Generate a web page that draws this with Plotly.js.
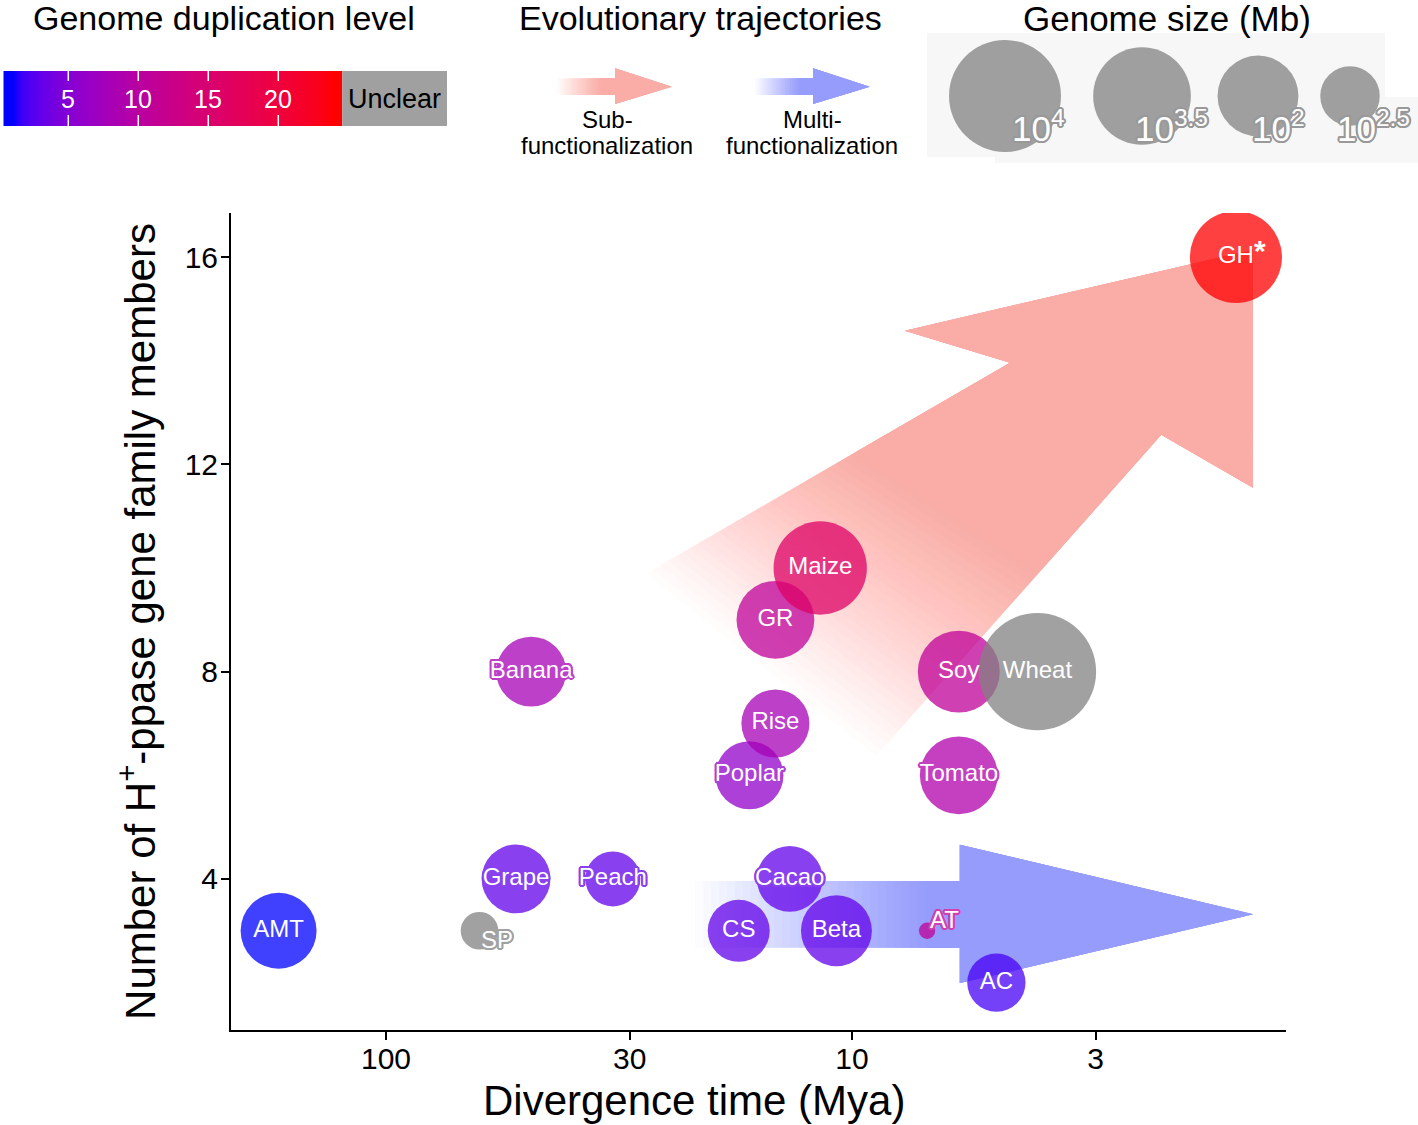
<!DOCTYPE html>
<html>
<head>
<meta charset="utf-8">
<script src="https://cdn.plot.ly/plotly-3.0.1.min.js"></script>
<style>html,body{margin:0;padding:0;background:#fff;}#chart{width:1418px;height:1125px;}</style>
</head>
<body>
<div id="chart"></div>
<script>
// ---------------- data ----------------
const species      = ['AMT','SP','Grape','Banana','Peach','CS','Poplar','Rise','GR','Cacao','Maize','Beta','AT','Soy','Tomato','AC','Wheat','GH'];
const divergenceMya = [170, 63, 52.6, 48.8, 32.6, 17.5, 16.6, 14.6, 14.6, 13.6, 11.7, 10.8, 6.9, 5.9, 5.9, 4.9, 4.0, 1.5];
const geneMembers   = [3, 3, 4, 8, 4, 3, 6, 7, 9, 4, 10, 3, 3, 8, 6, 2, 8, 16];
const genomeSizeMb  = [745, 140, 500, 530, 260, 355, 480, 480, 830, 430, 2300, 560, 90, 1070, 830, 300, 16000, 2100];
const duplicationLevel = [1, null, 3, 8, 3, 3, 6, 8, 11, 3, 16, 3, 11, 11, 9, 2, null, 24]; // null = unclear
const starred = ['GH'];

const xTickVals = [100, 30, 10, 3];
const yTickVals = [4, 8, 12, 16];
const dupTickVals = [5, 10, 15, 20];
const sizeLegendExp = [4, 3.5, 3, 2.5];
const sizeLegendText = ['10<sup>4</sup>', '10<sup>3.5</sup>', '10<sup>2</sup>', '10<sup>2.5</sup>'];

// ---------------- styles / layout constants ----------------
const FONT = 'Liberation Sans, Arial, Helvetica, sans-serif';
const SIZE_BASE = 1.91, SIZEREF = 1 / 3000, BUBBLE_OPACITY = 0.75;
const GREY = [130, 130, 130];
const PINK = '250,172,166', BLUE = '150,156,251';
const outlinedLabels = ['Banana', 'Grape', 'Peach', 'Poplar', 'Tomato', 'Cacao'];
const shiftedLabels = {SP: [17, -9], AT: [17, 11]};
const CMIN = 1, CMAX = 24;

// Lab interpolation (blue -> red), like ggplot's gradient
function s2l(c){c/=255;return c<=0.04045?c/12.92:Math.pow((c+0.055)/1.055,2.4);}
function l2s(c){c=Math.max(0,Math.min(1,c));return 255*(c<=0.0031308?12.92*c:1.055*Math.pow(c,1/2.4)-0.055);}
function rgb2lab(rgb){const r=s2l(rgb[0]),g=s2l(rgb[1]),b=s2l(rgb[2]);
  const X=(0.4124564*r+0.3575761*g+0.1804375*b)/0.95047,Y=0.2126729*r+0.7151522*g+0.0721750*b,Z=(0.0193339*r+0.1191920*g+0.9503041*b)/1.08883;
  const f=t=>t>0.008856?Math.cbrt(t):7.787*t+16/116;const fx=f(X),fy=f(Y),fz=f(Z);
  return [116*fy-16,500*(fx-fy),200*(fy-fz)];}
function lab2rgb(lab){const fy=(lab[0]+16)/116,fx=fy+lab[1]/500,fz=fy-lab[2]/200;
  const fi=t=>t*t*t>0.008856?t*t*t:(t-16/116)/7.787;
  const X=fi(fx)*0.95047,Y=fi(fy),Z=fi(fz)*1.08883;
  const r=3.2404542*X-1.5371385*Y-0.4985314*Z,g=-0.9692660*X+1.8760108*Y+0.0415560*Z,b=0.0556434*X-0.2040259*Y+1.0572252*Z;
  return [l2s(r),l2s(g),l2s(b)].map(Math.round);}
const LOW=rgb2lab([0,0,255]),HIGH=rgb2lab([255,0,0]);
function gradColor(t){t=Math.max(0,Math.min(1,t));return lab2rgb(LOW.map((v,i)=>v+(HIGH[i]-v)*t));}
const colorscale=[];for(let i=0;i<=30;i++){const t=i/30;colorscale.push([t,'rgb('+gradColor(t).join(',')+')']);}
function blendWhite(c,a){return 'rgb('+c.map(v=>Math.round(v*a+255*(1-a))).join(',')+')';}
function dupRGB(v){return v==null?GREY:gradColor((v-CMIN)/(CMAX-CMIN));}
function outline(col,w){const p=[];for(let k=0;k<16;k++){const t=k*Math.PI/8;p.push((w*Math.cos(t)).toFixed(2)+'px '+(w*Math.sin(t)).toFixed(2)+'px 0 '+col);}return p.join(', ');}

// faded arrow built from nested translucent polygons (linear alpha ramp)
function fadedArrow(tailU,tailL,shaftU,shaftL,head,rgb,ramp,n,xa,ya,logX){
  const fx=logX?Math.log10:(v=>v),gx=logX?(v=>Math.pow(10,v)):(v=>v);
  const lerp=(p,q,f)=>[gx(fx(p[0])+(fx(q[0])-fx(p[0]))*f),p[1]+(q[1]-p[1])*f];
  const out=[];
  for(let k=0;k<n;k++){
    const f=ramp*k/n;const A=lerp(tailU,shaftU,f),B=lerp(tailL,shaftL,f);
    const pts=[A,shaftU].concat(head,[shaftL,B,A]);
    out.push({type:'scatter',mode:'lines',x:pts.map(p=>p[0]),y:pts.map(p=>p[1]),fill:'toself',
      fillcolor:'rgba('+rgb+','+(1/(n-k)).toFixed(4)+')',line:{width:0,color:'rgba(0,0,0,0)'},
      xaxis:xa,yaxis:ya,hoverinfo:'skip',showlegend:false});
  }
  return out;
}

const traces=[];
// big trajectory arrows (data space)
traces.push(...fadedArrow([27.7,9.89],[8.88,6.37],[4.58,13.96],[2.17,12.57],
  [[7.70,14.58],[1.379,16.14],[1.379,11.55]],PINK,0.6,30,'x','y',true));
traces.push(...fadedArrow([21.7,3.96],[21.7,2.67],[5.87,3.96],[5.87,2.67],
  [[5.87,4.66],[1.379,3.32],[5.87,1.99]],BLUE,0.9,30,'x','y',true));

// bubbles
const idxClear=species.map((s,i)=>i).filter(i=>duplicationLevel[i]!=null);
const idxUnclear=species.map((s,i)=>i).filter(i=>duplicationLevel[i]==null);
const pick=(arr,idx)=>idx.map(i=>arr[i]);
traces.push({type:'scatter',mode:'markers',x:pick(divergenceMya,idxClear),y:pick(geneMembers,idxClear),
  marker:{size:pick(genomeSizeMb,idxClear).map(g=>Math.log10(g)-SIZE_BASE),sizemode:'area',sizeref:SIZEREF,
    color:pick(duplicationLevel,idxClear),coloraxis:'coloraxis',opacity:BUBBLE_OPACITY,line:{width:0}},
  hoverinfo:'skip',showlegend:false});
traces.push({type:'scatter',mode:'markers',x:pick(divergenceMya,idxUnclear),y:pick(geneMembers,idxUnclear),
  marker:{size:pick(genomeSizeMb,idxUnclear).map(g=>Math.log10(g)-SIZE_BASE),sizemode:'area',sizeref:SIZEREF,
    color:'rgb('+GREY.join(',')+')',opacity:BUBBLE_OPACITY,line:{width:0}},
  hoverinfo:'skip',showlegend:false});

// labels
const plainIdx=species.map((s,i)=>i).filter(i=>!outlinedLabels.includes(species[i])&&!(species[i] in shiftedLabels));
traces.push({type:'scatter',mode:'text',x:pick(divergenceMya,plainIdx),y:pick(geneMembers,plainIdx),
  text:plainIdx.map(i=>species[i]),textposition:'middle center',
  textfont:{family:FONT,size:24,color:'#ffffff'},hoverinfo:'skip',showlegend:false,cliponaxis:false});
species.forEach((s,i)=>{
  if(!outlinedLabels.includes(s))return;
  traces.push({type:'scatter',mode:'text',x:[divergenceMya[i]],y:[geneMembers[i]],text:[s],textposition:'middle center',
    textfont:{family:FONT,size:24,color:'#ffffff',shadow:outline(blendWhite(dupRGB(duplicationLevel[i]),BUBBLE_OPACITY),2)},
    hoverinfo:'skip',showlegend:false,cliponaxis:false});
});

// ---------------- legends ----------------
// colour bar
const barLo=0.357,barHi=24.57,nb=240;
traces.push({type:'heatmap',xaxis:'x2',yaxis:'y2',
  x:Array.from({length:nb+1},(_,i)=>barLo+(barHi-barLo)*i/nb),y:[0,1],
  z:[Array.from({length:nb},(_,i)=>barLo+(barHi-barLo)*(i+0.5)/nb)],coloraxis:'coloraxis',hoverinfo:'skip'});
// trajectory legend arrows (pixel space of overlay axis)
traces.push(...fadedArrow([557,78.3],[557,95],[615,78.3],[615,95],[[615,68.3],[671.7,86.7],[615,104]],PINK,0.8,20,'x3','y3',false));
traces.push(...fadedArrow([755,78.3],[755,95],[813,78.3],[813,95],[[813,68.3],[869.7,86.7],[813,104]],BLUE,0.8,20,'x3','y3',false));
// genome size legend circles
const sizeLegendX=[1005,1142,1258,1350];
traces.push({type:'scatter',mode:'markers',xaxis:'x3',yaxis:'y3',x:sizeLegendX,y:sizeLegendX.map(()=>96),
  marker:{size:sizeLegendExp.map(e=>e-SIZE_BASE),sizemode:'area',sizeref:SIZEREF,color:'rgb('+GREY.join(',')+')',opacity:BUBBLE_OPACITY,line:{width:0}},
  hoverinfo:'skip',showlegend:false});

const shapes=[
  {type:'rect',xref:'x3',yref:'y3',x0:927,x1:1385,y0:33,y1:157,fillcolor:'#f7f7f7',line:{width:0},layer:'below'},
  {type:'rect',xref:'x3',yref:'y3',x0:995,x1:1418,y0:97,y1:163,fillcolor:'#f7f7f7',line:{width:0},layer:'below'},
  {type:'rect',xref:'x2',yref:'y2',x0:barHi,x1:32.05,y0:0,y1:1,fillcolor:'#a0a0a0',line:{width:0}}
];
dupTickVals.forEach(v=>{
  shapes.push({type:'line',xref:'x2',yref:'y2',x0:v,x1:v,y0:1,y1:1-10/55,line:{color:'#ffffff',width:1.5}});
  shapes.push({type:'line',xref:'x2',yref:'y2',x0:v,x1:v,y0:0,y1:11/55,line:{color:'#ffffff',width:1.5}});
});

const ann=[];
const A=(o)=>Object.assign({showarrow:false,xanchor:'center',yanchor:'middle'},o);
ann.push(A({xref:'x3',yref:'y3',x:224,y:18,text:'Genome duplication level',font:{family:FONT,size:34,color:'#000'}}));
ann.push(A({xref:'x3',yref:'y3',x:700,y:18,text:'Evolutionary trajectories',font:{family:FONT,size:34,color:'#000'}}));
ann.push(A({xref:'x3',yref:'y3',x:1167,y:18,text:'Genome size (Mb)',font:{family:FONT,size:35,color:'#000'}}));
ann.push(A({xref:'x3',yref:'y3',x:607,y:119,text:'Sub-',font:{family:FONT,size:24,color:'#000'},borderpad:0}));
ann.push(A({xref:'x3',yref:'y3',x:607,y:145,text:'functionalization',font:{family:FONT,size:24,color:'#000'},borderpad:0}));
ann.push(A({xref:'x3',yref:'y3',x:812,y:119,text:'Multi-',font:{family:FONT,size:24,color:'#000'},borderpad:0}));
ann.push(A({xref:'x3',yref:'y3',x:812,y:145,text:'functionalization',font:{family:FONT,size:24,color:'#000'},borderpad:0}));
dupTickVals.forEach(v=>ann.push(A({xref:'x2',yref:'y2',x:v,y:0.5,text:String(v),font:{family:FONT,size:25,color:'#fff'}})));
ann.push(A({xref:'x2',yref:'y2',x:(barHi+32.05)/2,y:0.5,text:'Unclear',font:{family:FONT,size:27,color:'#000'}}));
const sizeLabelX=[1010,1133,1250,1335];
sizeLegendText.forEach((t,i)=>ann.push(A({xref:'x3',yref:'y3',x:sizeLabelX[i],y:126,xanchor:'left',text:t,
  font:{family:FONT,size:35,color:'#fff',shadow:outline('#999999',2)}})));
species.forEach((s,i)=>{
  if(s in shiftedLabels){
    const c=blendWhite(dupRGB(duplicationLevel[i]),BUBBLE_OPACITY);
    ann.push(A({xref:'x',yref:'y',x:Math.log10(divergenceMya[i]),y:geneMembers[i],xshift:shiftedLabels[s][0],yshift:shiftedLabels[s][1],
      text:s,font:{family:FONT,size:24,color:'#fff',shadow:outline(c,2)}}));
  }
  if(starred.includes(s)){
    ann.push(A({xref:'x',yref:'y',x:Math.log10(divergenceMya[i]),y:geneMembers[i],xshift:24,yshift:7,
      text:'<b>*</b>',font:{family:FONT,size:30,color:'#fff'}}));
  }
});
// x axis title (placed like the reference, left of the axis centre)
ann.push(A({xref:'paper',yref:'paper',x:694/1418,y:1-1100/1125,text:'Divergence time (Mya)',font:{family:FONT,size:42,color:'#000'}}));

const axisCommon={showline:true,linecolor:'#000',linewidth:2,ticks:'outside',ticklen:8,tickwidth:2,tickcolor:'#000',
  showgrid:false,zeroline:false,tickfont:{family:FONT,size:30,color:'#000'}};
const hidden={visible:false,showgrid:false,zeroline:false};
const layout={
  width:1418,height:1125,margin:{l:0,r:0,t:0,b:0},paper_bgcolor:'#ffffff',plot_bgcolor:'rgba(0,0,0,0)',showlegend:false,
  font:{family:FONT,color:'#000'},
  xaxis:Object.assign({},axisCommon,{type:'log',range:[2.3326,0.0687],domain:[231/1418,1286/1418],anchor:'y',
    tickvals:xTickVals,ticktext:xTickVals.map(String),ticklabelstandoff:-7}),
  yaxis:Object.assign({},axisCommon,{range:[1.085,16.85],domain:[95/1125,912/1125],anchor:'x',
    tickvals:yTickVals,ticktext:yTickVals.map(String),ticklabelstandoff:-3,
    title:{text:'Number of H<sup>+</sup>-ppase gene family members',font:{family:FONT,size:42,color:'#000'},standoff:16}}),
  xaxis2:Object.assign({},hidden,{domain:[3.3/1418,447/1418],range:[barLo,32.05],anchor:'y2'}),
  yaxis2:Object.assign({},hidden,{domain:[(1125-126)/1125,(1125-71)/1125],range:[0,1],anchor:'x2'}),
  xaxis3:Object.assign({},hidden,{domain:[0,1],range:[0,1418],anchor:'y3'}),
  yaxis3:Object.assign({},hidden,{domain:[(1125-190)/1125,1],range:[190,0],anchor:'x3'}),
  coloraxis:{colorscale:colorscale,cmin:CMIN,cmax:CMAX,showscale:false},
  shapes:shapes,annotations:ann
};
Plotly.newPlot('chart',traces,layout,{staticPlot:true,displayModeBar:false});
</script>
</body>
</html>
